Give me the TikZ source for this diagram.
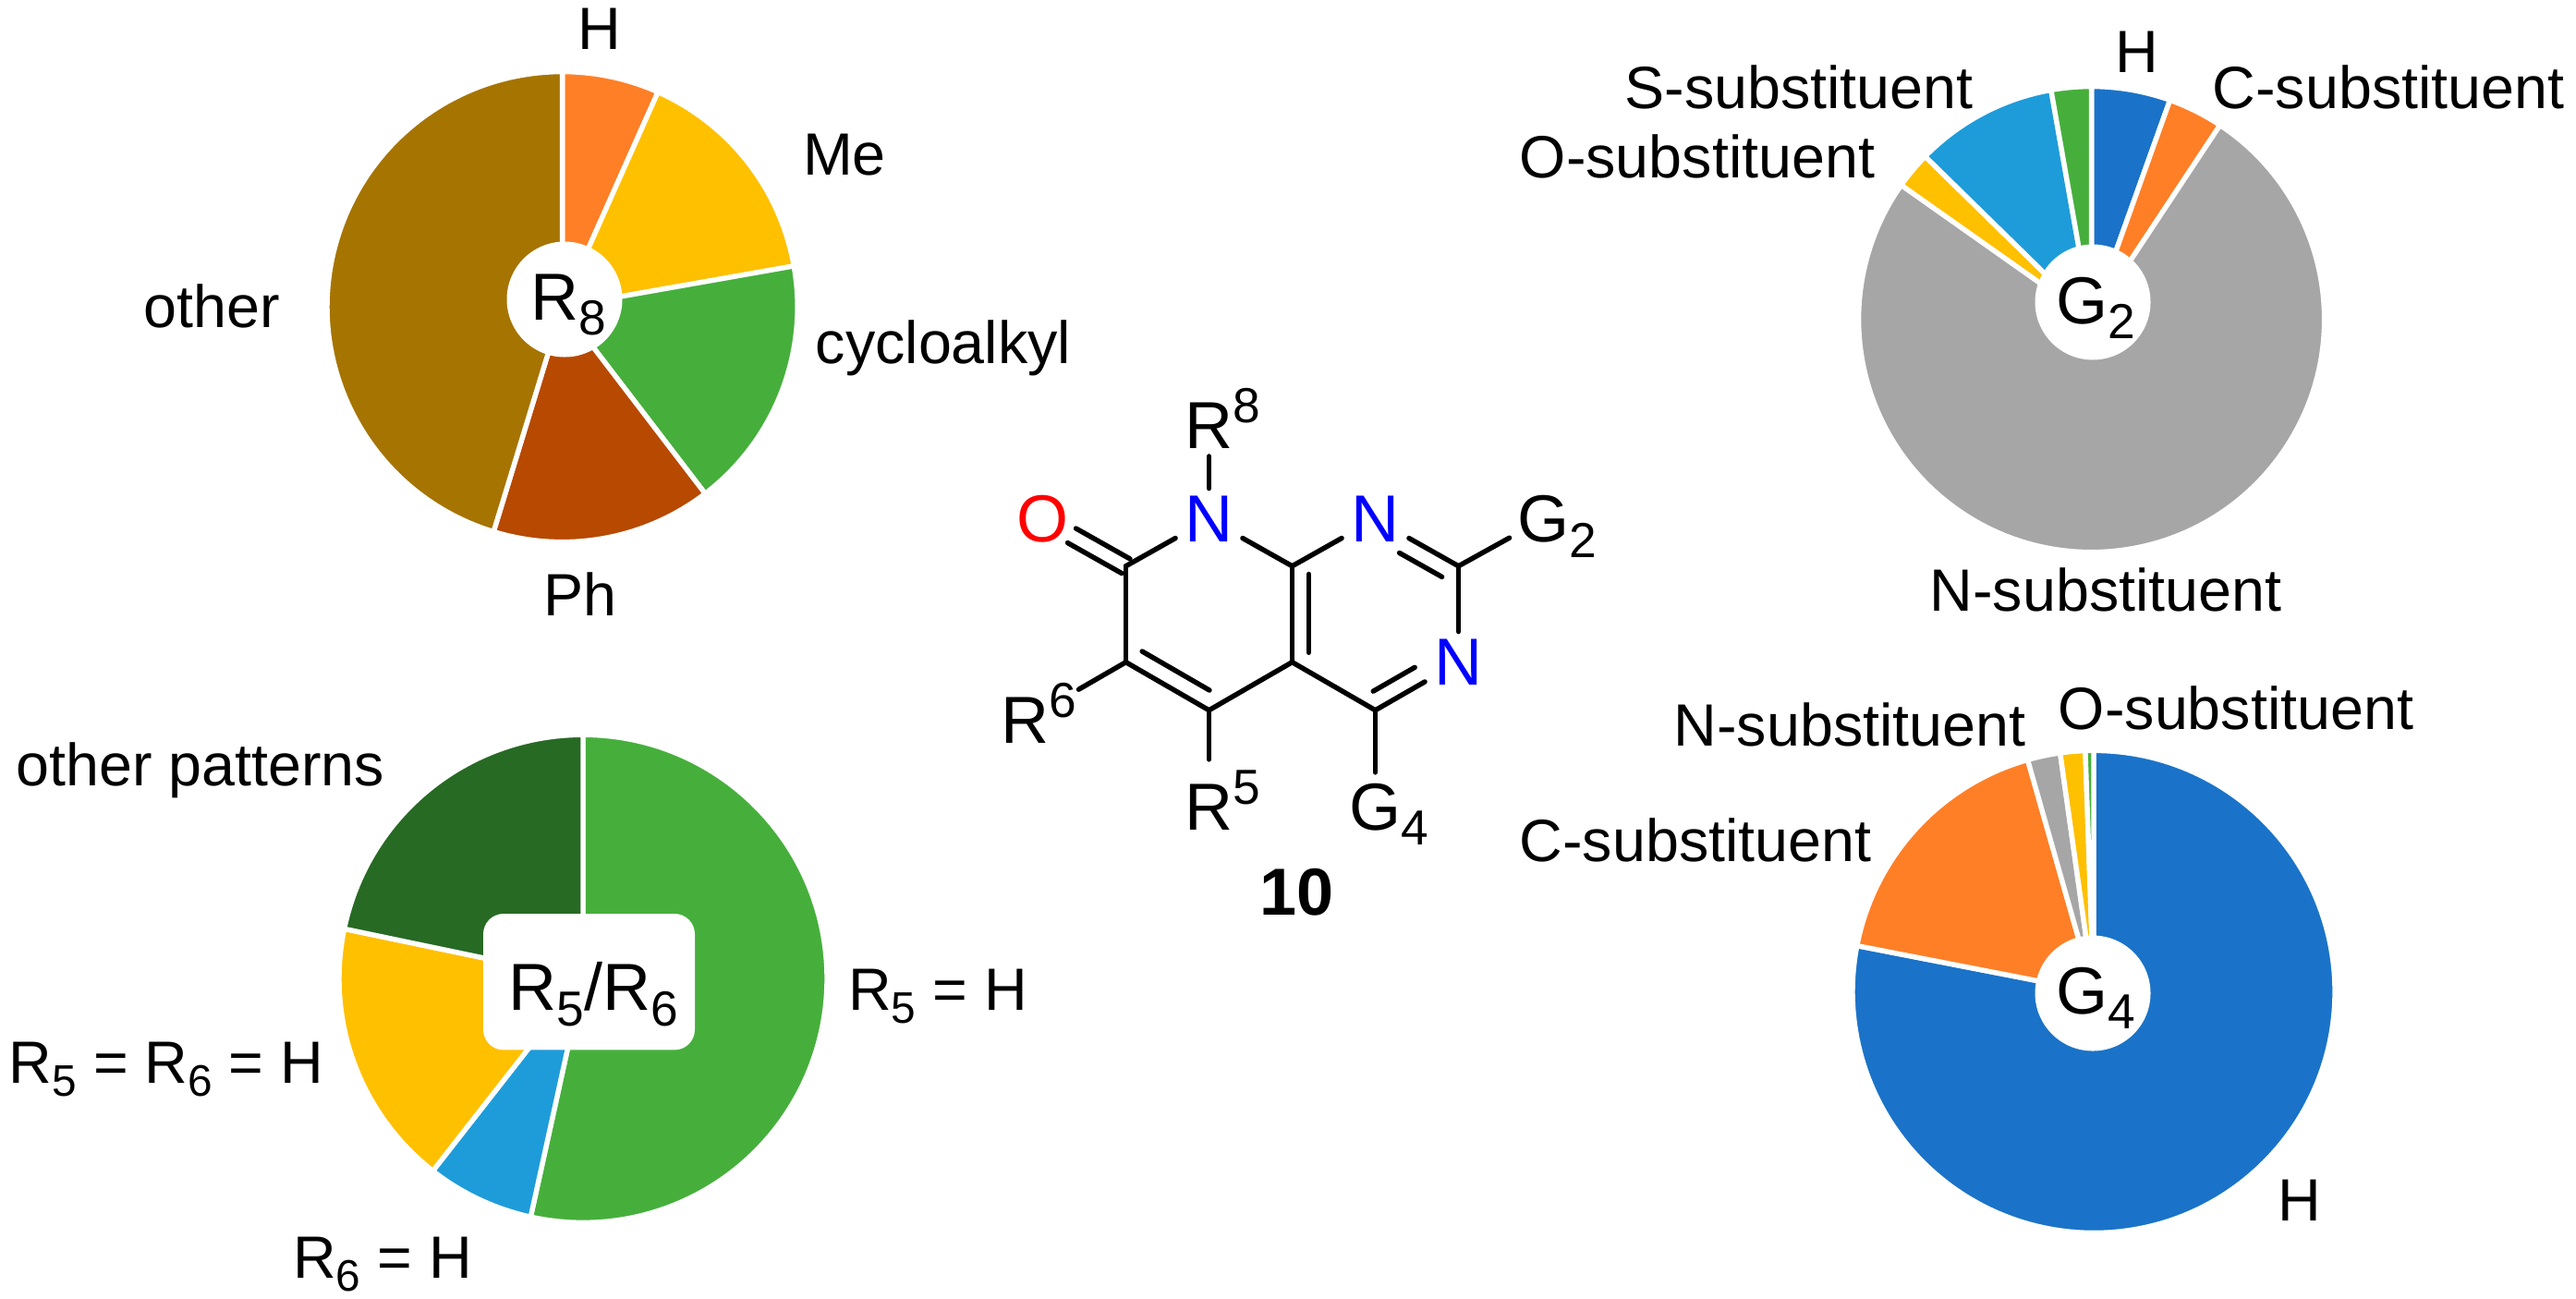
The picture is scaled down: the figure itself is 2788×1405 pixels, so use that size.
\documentclass[tikz,border=0pt]{standalone}
\usepackage{fontspec}
\setmainfont{Liberation Sans}
\usepackage{xcolor}
\usetikzlibrary{calc}

\definecolor{pieorange}{HTML}{FF7F27}
\definecolor{piegold}{HTML}{FFC000}
\definecolor{piegreen}{HTML}{46AF3C}
\definecolor{pierust}{HTML}{B74900}
\definecolor{piebrown}{HTML}{A67400}
\definecolor{piesky}{HTML}{1E9CD9}
\definecolor{piedark}{HTML}{276A24}
\definecolor{pieblue}{HTML}{1A73C8}
\definecolor{piegray}{HTML}{A6A6A6}

\newcommand{\lowered}[1]{\raisebox{-0.23em}{\scalebox{0.74}{#1}}}
\newcommand{\raised}[1]{\raisebox{0.385em}{\scalebox{0.74}{#1}}}

\begin{document}
\begin{tikzpicture}[
  x=0.5pt, y=-0.5pt,
  slice/.style={draw=white, line width=2.7pt, line join=round},
  hole/.style={circle, fill=white, inner sep=0pt, minimum size=62.5pt},
  holebox/.style={rectangle, fill=white, inner sep=0pt, minimum width=114.5pt, minimum height=73.7pt, rounded corners=11pt},
  lab/.style={anchor=base, inner sep=0pt, font=\fontsize{32.3}{38}\selectfont},
  piename/.style={anchor=base west, inner sep=0pt, font=\fontsize{36}{42}\selectfont},
  atom/.style={inner sep=0pt, minimum width=36pt, minimum height=33pt, font=\fontsize{36}{42}\selectfont},
  bond/.style={line width=2.7pt, line cap=round}
]
\useasboundingbox (0,0) rectangle (2788,1405);

% ------------------------------------------------------------
% R8 pie (top left)
% ------------------------------------------------------------
\coordinate (r8c) at (608.6,332.1);
\draw[slice, fill=pieorange] (r8c) -- ++(-90:254.5) arc[start angle=-90, end angle=-66, radius=254.5] -- cycle;
\draw[slice, fill=piegold]   (r8c) -- ++(-66:254.5) arc[start angle=-66, end angle=-10, radius=254.5] -- cycle;
\draw[slice, fill=piegreen]  (r8c) -- ++(-10:254.5) arc[start angle=-10, end angle=52.6, radius=254.5] -- cycle;
\draw[slice, fill=pierust]   (r8c) -- ++(52.6:254.5) arc[start angle=52.6, end angle=107, radius=254.5] -- cycle;
\draw[slice, fill=piebrown]  (r8c) -- ++(107:254.5) arc[start angle=107, end angle=270, radius=254.5] -- cycle;
\node[hole] (r8hole) at (611,324) {};
\node[piename] (r8name) at (574,346.4) {R\lowered{8}};

\node[lab] (r8h)     at (649,53)   {H};
\node[lab] (r8me)    at (914,189)  {Me};
\node[lab] (r8cyc)   at (1021,393) {cycloalkyl};
\node[lab] (r8ph)    at (628,666)  {Ph};
\node[lab] (r8other) at (229,354)  {other};

% ------------------------------------------------------------
% R5/R6 pie (bottom left)
% ------------------------------------------------------------
\coordinate (r56c) at (631,1059.3);
\draw[slice, fill=piegreen] (r56c) -- ++(-90:264) arc[start angle=-90, end angle=102.4, radius=264] -- cycle;
\draw[slice, fill=piesky]   (r56c) -- ++(102.4:264) arc[start angle=102.4, end angle=128, radius=264] -- cycle;
\draw[slice, fill=piegold]  (r56c) -- ++(128:264) arc[start angle=128, end angle=191.8, radius=264] -- cycle;
\draw[slice, fill=piedark]  (r56c) -- ++(191.8:264) arc[start angle=191.8, end angle=270, radius=264] -- cycle;
\node[holebox] (r56hole) at (637.5,1062.7) {};
\node[piename] (r56name) at (550,1093.6) {R\lowered{5}/R\lowered{6}};

\node[lab] (r56five)  at (1015,1093) {R\lowered{5} = H};
\node[lab] (r56both)  at (180,1172)  {R\lowered{5} = R\lowered{6} = H};
\node[lab] (r56six)   at (414,1383)  {R\lowered{6} = H};
\node[lab] (r56other) at (217,850)   {other patterns};

% ------------------------------------------------------------
% G2 pie (top right)
% ------------------------------------------------------------
\coordinate (g2c) at (2263.6,345.6);
\draw[slice, fill=pieblue]   (g2c) -- ++(-90:252) arc[start angle=-90, end angle=-70.3, radius=252] -- cycle;
\draw[slice, fill=pieorange] (g2c) -- ++(-70.3:252) arc[start angle=-70.3, end angle=-56.5, radius=252] -- cycle;
\draw[slice, fill=piegray]   (g2c) -- ++(-56.5:252) arc[start angle=-56.5, end angle=215.2, radius=252] -- cycle;
\draw[slice, fill=piegold]   (g2c) -- ++(215.2:252) arc[start angle=215.2, end angle=224.4, radius=252] -- cycle;
\draw[slice, fill=piesky]    (g2c) -- ++(224.4:252) arc[start angle=224.4, end angle=260, radius=252] -- cycle;
\draw[slice, fill=piegreen]  (g2c) -- ++(260:252) arc[start angle=260, end angle=270, radius=252] -- cycle;
\node[hole] (g2hole) at (2265,327) {};
\node[piename] (g2name) at (2225,350.4) {G\lowered{2}};

\node[lab] (g2h)   at (2313,78)  {H};
\node[lab] (g2c1)  at (2585,117) {C-substituent};
\node[lab] (g2s)   at (1947,117) {S-substituent};
\node[lab] (g2o)   at (1837,192) {O-substituent};
\node[lab] (g2n)   at (2279,661) {N-substituent};

% ------------------------------------------------------------
% G4 pie (bottom right)
% ------------------------------------------------------------
\coordinate (g4c) at (2266,1073.4);
\draw[slice, fill=pieblue]   (g4c) -- ++(-90:261) arc[start angle=-90, end angle=191, radius=261] -- cycle;
\draw[slice, fill=pieorange] (g4c) -- ++(191:261) arc[start angle=191, end angle=254.1, radius=261] -- cycle;
\draw[slice, fill=piegray]   (g4c) -- ++(254.1:261) arc[start angle=254.1, end angle=262, radius=261] -- cycle;
\draw[slice, fill=piegold]   (g4c) -- ++(262:261) arc[start angle=262, end angle=268, radius=261] -- cycle;
\draw[slice, fill=piegreen]  (g4c) -- ++(268:261) arc[start angle=268, end angle=270, radius=261] -- cycle;
\node[hole] (g4hole) at (2265,1075) {};
\node[piename] (g4name) at (2225,1097) {G\lowered{4}};

\node[lab] (g4h)  at (2489,1321) {H};
\node[lab] (g4n)  at (2002,807)  {N-substituent};
\node[lab] (g4o)  at (2420,789)  {O-substituent};
\node[lab] (g4c1) at (1835,932)  {C-substituent};

% ------------------------------------------------------------
% Compound 10 (center)
% ------------------------------------------------------------
\coordinate (c7) at (1218.5,612.7);
\coordinate (c6) at (1218.5,716.7);
\coordinate (c5) at (1308.5,768.7);
\coordinate (c4a) at (1398.5,716.7);
\coordinate (c8a) at (1398.5,612.7);
\coordinate (c4) at (1488.5,768.7);
\coordinate (c2) at (1578.5,612.7);

\node[atom, text=blue] (n8) at (1308.5,562) {N};
\node[atom, text=blue] (n1) at (1488.5,562) {N};
\node[atom, text=blue] (n3) at (1578.5,717) {N};
\node[atom, text=red]  (o7) at (1128.5,562) {O};

\node[atom] (g2) at (1670,562) {G\rlap{\smash{\lowered{2}}}};
\node[atom] (g4) at (1488.5,873.3) [minimum height=37pt] {G\rlap{\smash{\lowered{4}}}};
\node[atom] (r8) at (1308.5,460.5) {R\rlap{\smash{\raised{8}}}};
\node[atom] (r6) at (1109.7,779.6) [minimum width=60pt] {R\rlap{\smash{\raised{6}}}};
\node[atom] (r5) at (1308.5,873.3) [minimum height=51pt] {R\rlap{\smash{\raised{5}}}};

\draw[bond] (c7) -- (n8);
\draw[bond] (n8) -- (c8a);
\draw[bond] (c8a) -- (n1);
\draw[bond] (n1) -- (c2);
\draw[bond] (c2) -- (n3);
\draw[bond] (n3) -- (c4);
\draw[bond] (c4) -- (c4a);
\draw[bond] (c4a) -- (c5);
\draw[bond] (c5) -- (c6);
\draw[bond] (c6) -- (c7);
\draw[bond] (c8a) -- (c4a);

% second lines of the double bonds
\draw[bond] ($(n1)!.395!(c2)+(-9.5,16.4)$) -- ($(n1)!.907!(c2)+(-9.5,16.4)$);
\draw[bond] ($(c4)!.08!(n3)+(-9.5,-16.4)$) -- ($(c4)!.58!(n3)+(-9.5,-16.4)$);
\draw[bond] ($(c6)!.09!(c5)+(9.5,-16.4)$) -- ($(c6)!.9!(c5)+(9.5,-16.4)$);
\draw[bond] ($(c8a)!.084!(c4a)+(18,0)$) -- ($(c8a)!.9!(c4a)+(18,0)$);
\draw[bond] ($(c7)+(-4.5,7.8)$) -- ($(c7)!.65!(o7)+(-4.5,7.8)$);
\draw[bond] ($(c7)+(4.5,-7.8)$) -- ($(c7)!.65!(o7)+(4.5,-7.8)$);

% substituents
\draw[bond] (c2) -- (g2);
\draw[bond] (c4) -- (g4);
\draw[bond] (n8) -- (r8);
\draw[bond] (c6) -- (r6);
\draw[bond] (c5) -- (r5);

\node[atom, font=\fontsize{36}{42}\selectfont\bfseries] (cpd) at (1403.5,966) {10};

\end{tikzpicture}
\end{document}
